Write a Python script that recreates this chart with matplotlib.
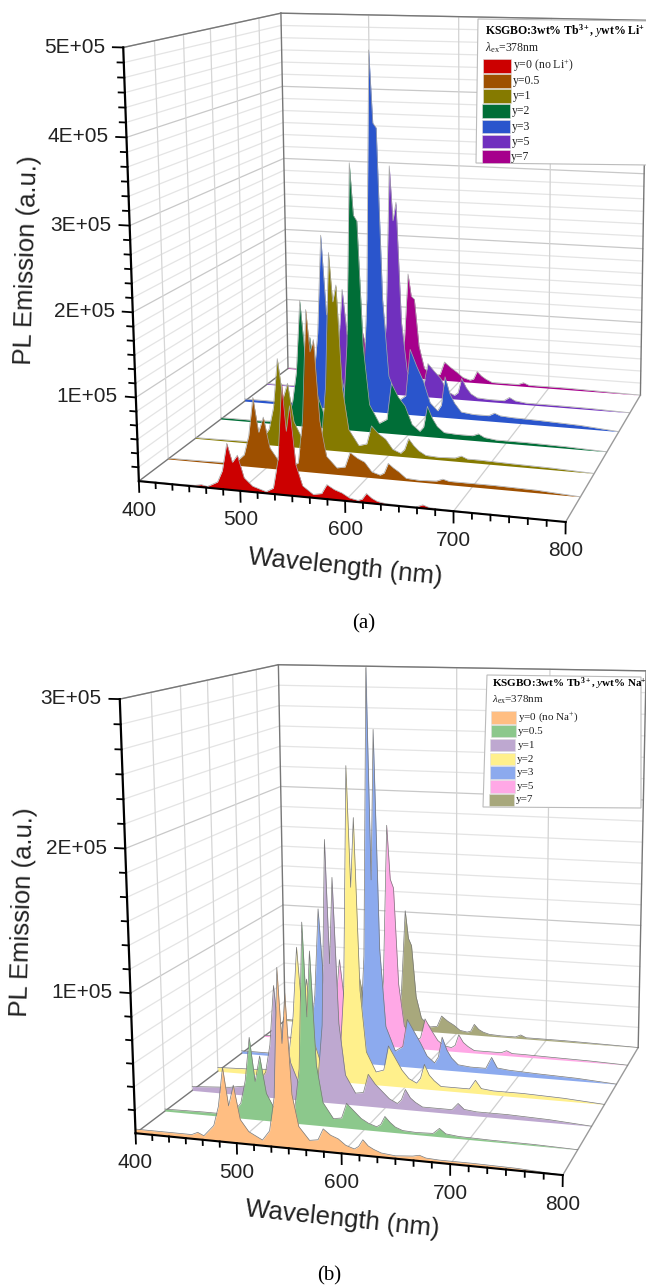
import numpy as np
import matplotlib
matplotlib.use("Agg")
import matplotlib.pyplot as plt
from matplotlib.patches import Polygon, Rectangle
from matplotlib.transforms import Transform

plt.rcParams['font.family'] = ['Liberation Sans', 'DejaVu Sans']
plt.rcParams['mathtext.fontset'] = 'custom'
plt.rcParams['mathtext.rm'] = 'Liberation Serif'
plt.rcParams['mathtext.it'] = 'Liberation Serif:italic'
plt.rcParams['mathtext.bf'] = 'Liberation Serif:bold'

# wavelength nodes (nm)
wavelength = [400, 440, 456, 462, 468, 478, 483, 488, 493, 498, 504, 512, 525,
              532, 537, 542, 545.5, 549, 554, 560, 570,
              578, 583, 590, 597, 604, 612, 616, 620, 625, 630, 637, 650,
              666, 672, 678, 690, 720, 760, 800]

# intensities in units of 1000 counts, panel (a)
li_y0 = [1, 1, 1.5, 3, 1.5, 8, 22, 55, 33, 42, 16, 7, 2, 7, 40, 130, 75, 105, 37, 13, 4,
         6, 17, 12, 9, 4, 2, 4, 11, 6, 3, 1.5, 1, 1, 4, 1.5, 1, 0.8, 0.5, 0]
li_y05 = [1, 1.5, 2, 3, 2, 14, 38, 85, 43, 62, 25, 11, 4, 10, 63, 195, 145, 160, 63, 21, 8,
          10, 28, 22, 18, 7, 4, 7, 19, 14, 10, 3, 2, 3, 6, 4, 4, 4, 3, 0]
li_y1 = [1, 1.5, 2, 3, 2, 20, 48, 110, 60, 80, 32, 12, 5, 14, 80, 245, 185, 206, 80, 28, 9,
         12, 35, 26, 20, 8, 4, 9, 23, 15, 9, 4, 3, 4, 7, 4, 4, 3, 2, 0]
li_y2 = [2, 2, 3, 4, 3, 28, 70, 163, 88, 117, 46, 17, 6, 17, 110, 340, 275, 268, 110, 35, 12,
         18, 65, 48, 37, 14, 6, 12, 39, 24, 14, 7, 6, 6, 9, 5, 3, 3, 2, 0]
li_y3 = [3, 3, 4, 6, 4, 38, 100, 230, 125, 165, 63, 24, 9, 24, 150, 470, 378, 372, 150, 49, 17,
         25, 87, 65, 46, 18, 8, 16, 54, 32, 20, 9, 7, 7, 11, 8, 7, 6, 4, 0]
li_y5 = [1, 1, 2, 3, 2, 24, 60, 140, 78, 102, 40, 15, 5, 15, 98, 310, 237, 262, 100, 34, 10,
         14, 46, 36, 27, 10, 5, 9, 29, 17, 9, 4, 3, 3, 8, 4, 2, 2, 1.5, 0]
li_y7 = [1, 1, 1, 2, 1, 11, 28, 65, 37, 47, 18, 7, 3, 7, 46, 147, 116, 112, 46, 15, 5,
         8, 26, 19, 13, 6, 3, 5, 16, 10, 6, 2, 2, 2, 5, 2, 2, 2, 1, 0]

# intensities in units of 1000 counts, panel (b)
na_y0 = [3, 3, 3, 5, 3, 11, 25, 53, 26, 41, 17, 9, 4, 11, 35, 125, 73, 108, 38, 16, 7,
         8, 16, 12, 10, 6, 4, 6, 11, 7, 5, 3, 2, 3, 4, 2.5, 2, 2, 1.5, 0]
na_y05 = [1.5, 2, 2, 2.5, 2, 11, 28, 60, 28, 47, 20, 9, 4, 11, 40, 145, 78, 125, 44, 17, 6,
          7, 18, 13, 8, 5, 3, 5, 11, 7, 4, 2, 1.5, 2, 6, 2.5, 1.5, 1, 0.8, 0]
na_y1 = [3, 5, 7, 11, 8, 19, 40, 85, 42, 62, 28, 13, 7, 17, 58, 194, 104, 167, 60, 22, 9,
         10, 24, 17, 12, 7, 4, 7, 15, 9, 6, 3, 3, 3, 8, 4, 3, 3, 2, 0]
na_y2 = [3, 4, 5, 8, 6, 19, 48, 102, 50, 78, 32, 13, 6, 17, 72, 240, 150, 202, 72, 25, 10,
         12, 31, 22, 13, 7, 4, 8, 19, 11, 7, 3, 3, 3, 10, 4, 3, 3, 2, 0]
na_y3 = [2, 2, 3, 5, 3, 21, 52, 121, 62, 85, 35, 14, 6, 17, 86, 307, 146, 261, 92, 31, 12,
         16, 38, 29, 20, 10, 5, 10, 26, 16, 10, 5, 4, 4, 13, 5, 4, 3, 2, 0]
na_y5 = [1, 1, 2, 3, 2, 13, 30, 69, 36, 50, 21, 8, 4, 10, 53, 180, 137, 130, 52, 18, 6,
         9, 25, 16, 8, 4, 3, 5, 14, 8, 5, 2, 2, 2, 4, 2, 2, 1.5, 1, 0]
na_y7 = [1, 1, 1, 2, 1, 8, 20, 45, 24, 33, 14, 5, 2, 7, 30, 101, 78, 72, 29, 11, 4,
         5, 14, 10, 7, 3, 2, 3, 9, 5, 3, 1.5, 1, 1, 3, 1, 1, 1, 0.5, 0]

li_series = [li_y0, li_y05, li_y1, li_y2, li_y3, li_y5, li_y7]
na_series = [na_y0, na_y05, na_y1, na_y2, na_y3, na_y5, na_y7]
y_names = ['y=0', 'y=0.5', 'y=1', 'y=2', 'y=3', 'y=5', 'y=7']
li_colors = ['#CC0000', '#9E5000', '#857A00', '#006E37', '#2A55CC', '#7030BE', '#A6008C']
na_colors = ['#FFBE82', '#8CC88C', '#BEA8D0', '#FFF08C', '#8CAAEE', '#FFA8E6', '#A8A87C']

x_ticks = [400, 500, 600, 700, 800]
li_z_ticks = [100000, 200000, 300000, 400000, 500000]
na_z_ticks = [100000, 200000, 300000]

# perspective scale of each panel: (wavelength, series index, intensity) -> picture pixel
li_scale_world = [(400, 0, 0), (500, 0, 0), (600, 0, 0), (700, 0, 0), (800, 0, 0),
                  (400, 0, 1e5), (400, 0, 2e5), (400, 0, 3e5), (400, 0, 4e5), (400, 0, 5e5),
                  (400, 1, 0), (400, 2, 0), (400, 3, 0), (400, 4, 0), (400, 5, 0), (400, 6, 0),
                  (800, 1, 0), (800, 2, 0), (800, 3, 0), (800, 4, 0), (800, 5, 0), (800, 6, 0),
                  (400, 6, 5e5), (600, 6, 5e5), (800, 6, 5e5)]
li_scale_pixel = [(138.9, 481), (240.2, 492), (345.3, 501.7), (453.2, 511.7), (565.7, 521.7),
                  (136, 398), (132.7, 313), (129.8, 226), (125.7, 137), (123.6, 47),
                  (169, 458.7), (195.7, 437.3), (220.4, 418.7), (245.2, 400), (267.8, 383.3), (286.4, 370),
                  (580, 496), (593.3, 473.3), (607.7, 451.7), (619.3, 431), (630.4, 412.7), (640.7, 396),
                  (281, 13.3), (459.4, 17), (646, 20)]
na_scale_world = [(400, 0, 0), (800, 0, 0),
                  (400, 0, 1e5), (400, 0, 2e5), (400, 0, 3e5),
                  (400, 1, 0), (400, 2, 0), (400, 3, 0), (400, 4, 0), (400, 5, 0), (400, 6, 0),
                  (800, 1, 0), (800, 2, 0), (800, 3, 0), (800, 4, 0), (800, 5, 0), (800, 6, 0),
                  (400, 6, 3e5), (800, 6, 3e5)]
na_scale_pixel = [(136, 1134), (563.7, 1175),
                  (131, 994), (125, 849), (120.3, 698),
                  (164.8, 1111), (191.6, 1091), (218.4, 1069.3), (241, 1052), (263.7, 1036), (286, 1022),
                  (576.8, 1149.3), (591.3, 1127), (603.6, 1104.3), (616.8, 1084.3), (628.4, 1065.3), (638.6, 1047),
                  (278, 665), (646, 671)]


# fit the 3x4 projection from the calibration points
def fit_projection(world, pixel, z_max):
    norm = np.diag([1 / 400.0, 1 / 6.0, 1 / z_max, 1.0])
    rows = []
    for (x, k, z), (u, v) in zip(world, pixel):
        w = norm @ np.array([x, k, z, 1.0])
        rows.append(np.r_[w, 0, 0, 0, 0, -u * w])
        rows.append(np.r_[0, 0, 0, 0, w, -v * w])
    _, _, vt = np.linalg.svd(np.array(rows))
    return vt[-1].reshape(3, 4) @ norm


# plane of one series (or wall) : (wavelength, intensity) -> pixel
class SeriesPlane(Transform):
    input_dims = 2
    output_dims = 2
    is_separable = False
    has_inverse = False

    def __init__(self, proj, k):
        super().__init__()
        self.proj = proj
        self.k = k

    def transform_non_affine(self, values):
        values = np.asarray(values, dtype=float)
        world = np.c_[values[:, 0], np.full(len(values), self.k), values[:, 1], np.ones(len(values))]
        out = world @ self.proj.T
        return out[:, :2] / out[:, 2:3]


# wall across the depth : (series index, intensity) at a fixed wavelength -> pixel
class DepthPlane(SeriesPlane):
    def transform_non_affine(self, values):
        values = np.asarray(values, dtype=float)
        world = np.c_[np.full(len(values), self.k), values[:, 0], values[:, 1], np.ones(len(values))]
        out = world @ self.proj.T
        return out[:, :2] / out[:, 2:3]


def draw_panel(ax, proj, series, colors, edge, z_ticks, tick_down):
    z_max = z_ticks[-1]
    front = SeriesPlane(proj, 0) + ax.transData
    back = SeriesPlane(proj, 6) + ax.transData
    left = DepthPlane(proj, 400) + ax.transData
    right = DepthPlane(proj, 800) + ax.transData
    floor_k = [0, 6]
    minor_step = (z_ticks[1] - z_ticks[0]) / 6.0
    minors = np.arange(minor_step, z_max + 1, minor_step)

    # left and back walls
    for z in minors:
        is_major = any(abs(z - t) < 1 for t in z_ticks)
        col = '#c8c8c8' if is_major else '#e4e4e4'
        ax.plot(floor_k, [z, z], color=col, lw=0.9, transform=left, zorder=1)
        ax.plot([400, 800], [z, z], color=col, lw=0.9, transform=back, zorder=1)
    for k in range(1, 6):
        ax.plot([k, k], [0, z_max], color='#d6d6d6', lw=0.9, transform=left, zorder=1)
    for x in x_ticks[1:4]:
        ax.plot([x, x], [0, z_max], color='#d2d2d2', lw=0.9, transform=back, zorder=1)
        ax.plot(floor_k, [0, 0], color='#cfcfcf', lw=0.9, transform=DepthPlane(proj, x) + ax.transData, zorder=1)

    # box edges
    ax.plot(floor_k, [0, 0], color='#777777', lw=1.0, transform=left, zorder=1.5)
    ax.plot(floor_k, [0, 0], color='#9a9a9a', lw=1.0, transform=right, zorder=1.5)
    ax.plot(floor_k, [z_max, z_max], color='#777777', lw=1.0, transform=left, zorder=1.5)
    ax.plot([400, 800], [z_max, z_max], color='#777777', lw=1.0, transform=back, zorder=1.5)
    ax.plot([400, 400], [0, z_max], color='#777777', lw=1.0, transform=back, zorder=1.5)
    ax.plot([800, 800], [0, z_max], color='#777777', lw=1.0, transform=back, zorder=1.5)

    # spectra, back row first
    for k in range(6, -1, -1):
        values = np.array(series[k]) * 1000.0
        trans = SeriesPlane(proj, k) + ax.transData
        ax.fill_between(wavelength, 0, values, color=colors[k], lw=0, transform=trans, zorder=10 - k)
        ax.plot(wavelength, values, color=edge, lw=0.5, transform=trans, zorder=10 - k)

    # front axes
    ax.plot([400, 800], [0, 0], color='black', lw=1.5, transform=front, zorder=12)
    ax.plot([400, 400], [0, z_max], color='black', lw=1.6, transform=front, zorder=12)
    for x in np.arange(400, 800.1, 100 / 6.0):
        major = any(abs(x - t) < 0.01 for t in x_ticks)
        ax.plot([x, x], [0, -tick_down * (1 if major else 0.5)], color='black', lw=1.3,
                transform=front, zorder=12)
    for z in minors:
        major = any(abs(z - t) < 1 for t in z_ticks)
        ax.plot([400, 400 - (10 if major else 6)], [z, z], color='black', lw=1.3,
                transform=front, zorder=12)

    # tick labels
    for x in x_ticks:
        ax.annotate(str(x), xy=(x, 0), xycoords=front, xytext=(0, -29), textcoords='offset pixels',
                    ha='center', va='center', fontsize=15, color='#222222')
    for z in z_ticks:
        ax.annotate('%dE+05' % (z / 100000), xy=(390, z), xycoords=front, xytext=(-8, 0),
                    textcoords='offset pixels', ha='right', va='center', fontsize=15, color='#222222')


def draw_legend(ax, box, title, names, colors, title_xy, lam_y, swatch_x, swatch_y, swatch_w, swatch_h, text_x, size):
    ax.add_patch(Polygon(box, closed=True, facecolor='white', edgecolor='#bbbbbb', lw=0.8, zorder=20))
    serif = ['Liberation Serif', 'DejaVu Serif']
    ax.text(title_xy[0], title_xy[1], title, family=serif, weight='bold', fontsize=size,
            va='center', ha='left', zorder=21)
    ax.text(title_xy[0], lam_y, r'$\lambda_{\mathrm{ex}}$=378nm', family=serif, fontsize=size,
            va='center', ha='left', color='#222222', zorder=21)
    n = len(names)
    for i, name in enumerate(names):
        dx = -1.8 * i / (n - 1)
        ax.add_patch(Rectangle((swatch_x + dx, swatch_y[i] - swatch_h / 2), swatch_w, swatch_h,
                               facecolor=colors[i], edgecolor='#dddddd', lw=0.4, zorder=21))
        ax.text(text_x + dx, swatch_y[i], name, family=serif, fontsize=size, va='center', ha='left',
                color='#222222', zorder=21)


fig = plt.figure(figsize=(6.46, 12.86), dpi=100)
ax_a = fig.add_axes([0, 646 / 1286, 1, 640 / 1286])
ax_b = fig.add_axes([0, 0, 1, 646 / 1286])
ax_a.set_xlim(0, 646)
ax_a.set_ylim(640, 0)
ax_b.set_xlim(0, 646)
ax_b.set_ylim(1286, 640)
for ax in (ax_a, ax_b):
    ax.set_autoscale_on(False)
    ax.axis('off')

proj_a = fit_projection(li_scale_world, li_scale_pixel, 5e5)
proj_b = fit_projection(na_scale_world, na_scale_pixel, 3e5)

draw_panel(ax_a, proj_a, li_series, li_colors, '#a8a8a8', li_z_ticks, 13000)
draw_panel(ax_b, proj_b, na_series, na_colors, '#777777', na_z_ticks, 7500)

li_names = ['y=0 (no Li$^{+}$)'] + y_names[1:]
na_names = ['y=0 (no Na$^{+}$)'] + y_names[1:]
draw_legend(ax_a, [(478, 19), (648, 21), (648, 165), (476, 163)],
            r'KSGBO:3wt% Tb$^{\mathbf{3+}}$, $\mathbf{\mathit{y}}$wt% Li$^{\mathbf{+}}$',
            li_names, li_colors, (485, 30.7), 47.3, 483.3,
            [66, 81, 96, 111, 126.7, 141.7, 156.7], 28, 13.5, 513, 8.5)
draw_legend(ax_b, [(487, 675), (641, 677), (641, 808), (483, 807)],
            r'KSGBO:3wt% Tb$^{\mathbf{3+}}$, $\mathbf{\mathit{y}}$wt% Na$^{\mathbf{+}}$',
            na_names, na_colors, (491.7, 684), 700, 491,
            [717.7, 731, 745, 759, 772.7, 786.7, 800], 25, 12.5, 518, 8.0)

# axis titles
ax_a.text(27, 260, 'PL Emission (a.u.)', rotation=88.4, ha='center', va='center', fontsize=18.5, color='#222222')
ax_b.text(23, 912, 'PL Emission (a.u.)', rotation=88.4, ha='center', va='center', fontsize=18.5, color='#222222')
ax_a.text(345, 567, 'Wavelength (nm)', rotation=-6, ha='center', va='center', fontsize=18.5, color='#222222')
ax_b.text(342, 1219, 'Wavelength (nm)', rotation=-6, ha='center', va='center', fontsize=18.5, color='#222222')

# captions
ax_a.text(364, 624, '(a)', family=['Liberation Serif', 'DejaVu Serif'], ha='center', va='center', fontsize=15)
ax_b.text(329, 1276, '(b)', family=['Liberation Serif', 'DejaVu Serif'], ha='center', va='center', fontsize=15)

fig.savefig('out.png', dpi=100)
